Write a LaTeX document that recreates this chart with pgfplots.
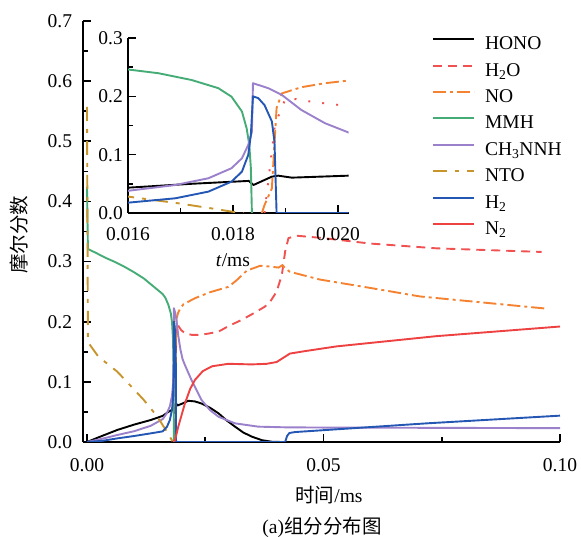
\documentclass[border=0pt]{standalone}
\usepackage{fontspec}
\setmainfont{Liberation Serif}
\newfontfamily\cjk{Noto Sans CJK SC}
\usepackage{pgfplots}
\usepackage{pgfplotstable}
\pgfplotsset{compat=1.18}
\definecolor{cHONO}{RGB}{0,0,0}
\definecolor{cH2O}{RGB}{240,82,82}
\definecolor{cNO}{RGB}{245,130,48}
\definecolor{cMMH}{RGB}{70,172,118}
\definecolor{cCH}{RGB}{155,128,203}
\definecolor{cNTO}{RGB}{200,149,44}
\definecolor{cH2}{RGB}{36,86,180}
\definecolor{cN2}{RGB}{238,66,66}

\pgfplotstableread{
x y
0 0
0.003 0.0095
0.0064 0.020
0.010 0.029
0.0135 0.0366
0.016 0.0434
0.0172 0.050
0.0183 0.055
0.01839 0.048
0.01874 0.0623
0.01886 0.064
0.01912 0.0606
0.0202 0.064
0.0214 0.0685
0.0228 0.0675
0.0242 0.064
0.026 0.057
0.0278 0.0477
0.0295 0.036
0.0313 0.0255
0.033 0.016
0.0348 0.009
0.037 0.003
0.039 0.0005
0.041 0
0.1 0
}\tHONO

\pgfplotstableread{
x y
0.0186 0
0.0188 0.152
0.0190 0.196
0.01924 0.195
0.0194 0.192
0.01991 0.186
0.0207 0.181
0.0222 0.178
0.0235 0.178
0.0255 0.180
0.0278 0.1835
0.030 0.193
0.0327 0.203
0.035 0.213
0.0376 0.225
0.0387 0.233
0.0401 0.25
0.0412 0.278
0.0419 0.317
0.0426 0.339
0.0443 0.343
0.050 0.339
0.0598 0.33
0.0739 0.322
0.0961 0.316
}\tHtwoO

\pgfplotstableread{
x y
0.01855 0
0.0186 0.0137
0.01874 0.042
0.01877 0.088
0.0188 0.134
0.01883 0.18
0.01893 0.205
0.0193 0.2156
0.01975 0.2225
0.0204 0.229
0.0228 0.239
0.0260 0.249
0.0299 0.258
0.0315 0.268
0.0338 0.285
0.0366 0.293
0.0387 0.2917
0.0405 0.290
0.0413 0.294
0.0420 0.288
0.0429 0.283
0.0493 0.27
0.0600 0.256
0.0704 0.242
0.0968 0.222
}\tNO

\pgfplotstableread{
x y
0 0.424
0.0002 0.321
0.002 0.314
0.004 0.306
0.006 0.299
0.008 0.291
0.010 0.282
0.012 0.272
0.014 0.259
0.016 0.246
0.01658 0.2396
0.01721 0.228
0.01772 0.214
0.01797 0.1995
0.01817 0.174
0.01826 0.145
0.01831 0.117
0.01834 0.077
0.01836 0
}\tMMH

\pgfplotstableread{
x y
0 0
0.003 0.005
0.0064 0.0116
0.010 0.018
0.0135 0.027
0.016 0.038
0.0169 0.048
0.01753 0.0595
0.01797 0.0767
0.01817 0.0938
0.01829 0.1166
0.01836 0.139
0.01838 0.2225
0.01867 0.214
0.01893 0.2024
0.0193 0.1767
0.01975 0.154
0.0202 0.138
0.0207 0.128
0.0221 0.103
0.0242 0.07
0.0260 0.053
0.0278 0.042
0.0313 0.031
0.0362 0.0255
0.0419 0.0244
0.05 0.024
0.1 0.023
}\tCH

\pgfplotstableread{
x y
0 0.557
0.0002 0.166
0.0024 0.142
0.0064 0.117
0.0094 0.092
0.012 0.070
0.0149 0.042
0.01617 0.026
0.01696 0.0166
0.01766 0.0069
0.0180 0.002
0.0182 0
}\tNTO

\pgfplotstableread{
x y
0 0
0.0033 0.002
0.0064 0.006
0.010 0.010
0.0135 0.0144
0.016 0.0177
0.0169 0.0252
0.01753 0.0366
0.01797 0.0537
0.01817 0.0709
0.01829 0.0995
0.01834 0.134
0.01838 0.2
0.01848 0.197
0.0186 0.185
0.01874 0.157
0.01879 0.122
0.01883 0
0.0419 0
0.0423 0.010
0.0428 0.015
0.0440 0.0165
0.0449 0.017
0.0718 0.031
0.1 0.0438
}\tHtwo

\pgfplotstableread{
x y
0.0182 0
0.0186 0.003
0.0193 0.0255
0.0207 0.064
0.0218 0.088
0.0228 0.103
0.0245 0.118
0.0265 0.126
0.0299 0.130
0.0348 0.129
0.0380 0.130
0.0401 0.133
0.0415 0.140
0.0429 0.147
0.0460 0.151
0.0528 0.159
0.0739 0.176
0.1 0.192
}\tNtwo

\begin{document}
\fontsize{19.5}{22}\selectfont
\begin{tikzpicture}
\useasboundingbox (0pt,0pt) rectangle (581pt,537pt);
\pgfplotsset{
  base/.style={
    scale only axis,
    axis lines=left,
    axis line style={-, line width=2pt},
    tick align=inside,
    major tick length=8pt,
    minor tick length=5pt,
    every tick/.style={line width=1.6pt, black},
    tick label style={font=\fontsize{19.5}{22}\selectfont},
    label style={font=\fontsize{19.5}{22}\selectfont},
    /pgf/number format/assume math mode=true,
    scaled x ticks=false, scaled y ticks=false,
  },
  HONOs/.style={cHONO, line width=1.9pt, line join=round},
  H2Os/.style={cH2O, line width=1.9pt, dash pattern=on 9pt off 6pt},
  NOs/.style={cNO, line width=1.9pt, dash pattern=on 13pt off 4pt on 3pt off 4pt},
  MMHs/.style={cMMH, line width=1.9pt, line join=round},
  CHs/.style={cCH, line width=1.9pt, line join=round},
  NTOs/.style={cNTO, line width=1.9pt, dash pattern=on 14pt off 8pt on 4pt off 8pt},
  H2s/.style={cH2, line width=1.9pt, line join=round},
  N2s/.style={cN2, line width=1.9pt, line join=round},
}
\begin{axis}[base,
  at={(83.2pt,95pt)}, anchor=south west,
  width=476.8pt, height=421pt,
  xmin=-0.0008, xmax=0.1, ymin=0, ymax=0.7,
  xtick={0,0.05,0.1}, minor xtick={0.025,0.075},
  ytick={0,0.1,0.2,0.3,0.4,0.5,0.6,0.7},
  minor ytick={0.05,0.15,0.25,0.35,0.45,0.55,0.65},
  xticklabel style={/pgf/number format/fixed, /pgf/number format/fixed zerofill, /pgf/number format/precision=2, yshift=-10pt},
  yticklabel style={/pgf/number format/fixed, /pgf/number format/fixed zerofill, /pgf/number format/precision=1, xshift=-4.5pt},
  xlabel={{\cjk 时间}/ms},
  xlabel style={at={(axis description cs:0.5155,-0.1259)}, anchor=center},
  ylabel={\cjk 摩尔分数},
  ylabel style={at={(axis description cs:-0.1346,0.4917)}, anchor=center},
  legend style={at={(axis description cs:0.7315,0.9656)}, anchor=north west,
    draw=none, fill=none, inner sep=0pt, row sep=7.4pt, column sep=10pt,
    font=\fontsize{19.5}{22}\selectfont,
    nodes={inner sep=0pt, text height=14pt, text depth=5pt}},
  legend cell align=left,
  legend image code/.code={\draw[#1] (0pt,6pt) -- (41pt,6pt);},
]
\addplot[HONOs] table {\tHONO}; \addlegendentry{HONO}
\addplot[H2Os] table {\tHtwoO}; \addlegendentry{H\textsubscript{2}O}
\addplot[NOs] table {\tNO}; \addlegendentry{NO}
\addplot[MMHs] table {\tMMH}; \addlegendentry{MMH}
\addplot[CHs] table {\tCH}; \addlegendentry{CH\textsubscript{3}NNH}
\addplot[NTOs] table {\tNTO}; \addlegendentry{NTO}
\addplot[H2s] table {\tHtwo}; \addlegendentry{H\textsubscript{2}}
\addplot[N2s] table {\tNtwo}; \addlegendentry{N\textsubscript{2}}
\end{axis}

\begin{axis}[base,
  at={(128pt,324pt)}, anchor=south west,
  width=220.5pt, height=175pt,
  xmin=0.016, xmax=0.0202, ymin=0, ymax=0.3,
  xtick={0.016,0.018,0.020}, minor xtick={0.017,0.019},
  ytick={0,0.1,0.2,0.3}, minor ytick={0.05,0.15,0.25},
  xticklabel style={/pgf/number format/fixed, /pgf/number format/fixed zerofill, /pgf/number format/precision=3, yshift=-7.5pt},
  yticklabel style={/pgf/number format/fixed, /pgf/number format/fixed zerofill, /pgf/number format/precision=1, xshift=1.5pt},
  xlabel={\textit{t}/ms},
  xlabel style={at={(axis description cs:0.476,-0.269)}, anchor=center},
]
\addplot[HONOs] table {\tHONO};
\addplot[cH2O, line width=1.9pt, dash pattern=on 2pt off 12pt] table {\tHtwoO};
\addplot[NOs] table {\tNO};
\addplot[MMHs] table {\tMMH};
\addplot[CHs] table {\tCH};
\addplot[NTOs] table {\tNTO};
\addplot[H2s] table {\tHtwo};
\end{axis}
\node[font=\fontsize{19.5}{22}\selectfont] at (322pt,10pt) {(a){\cjk 组分分布图}};
\end{tikzpicture}
\end{document}
